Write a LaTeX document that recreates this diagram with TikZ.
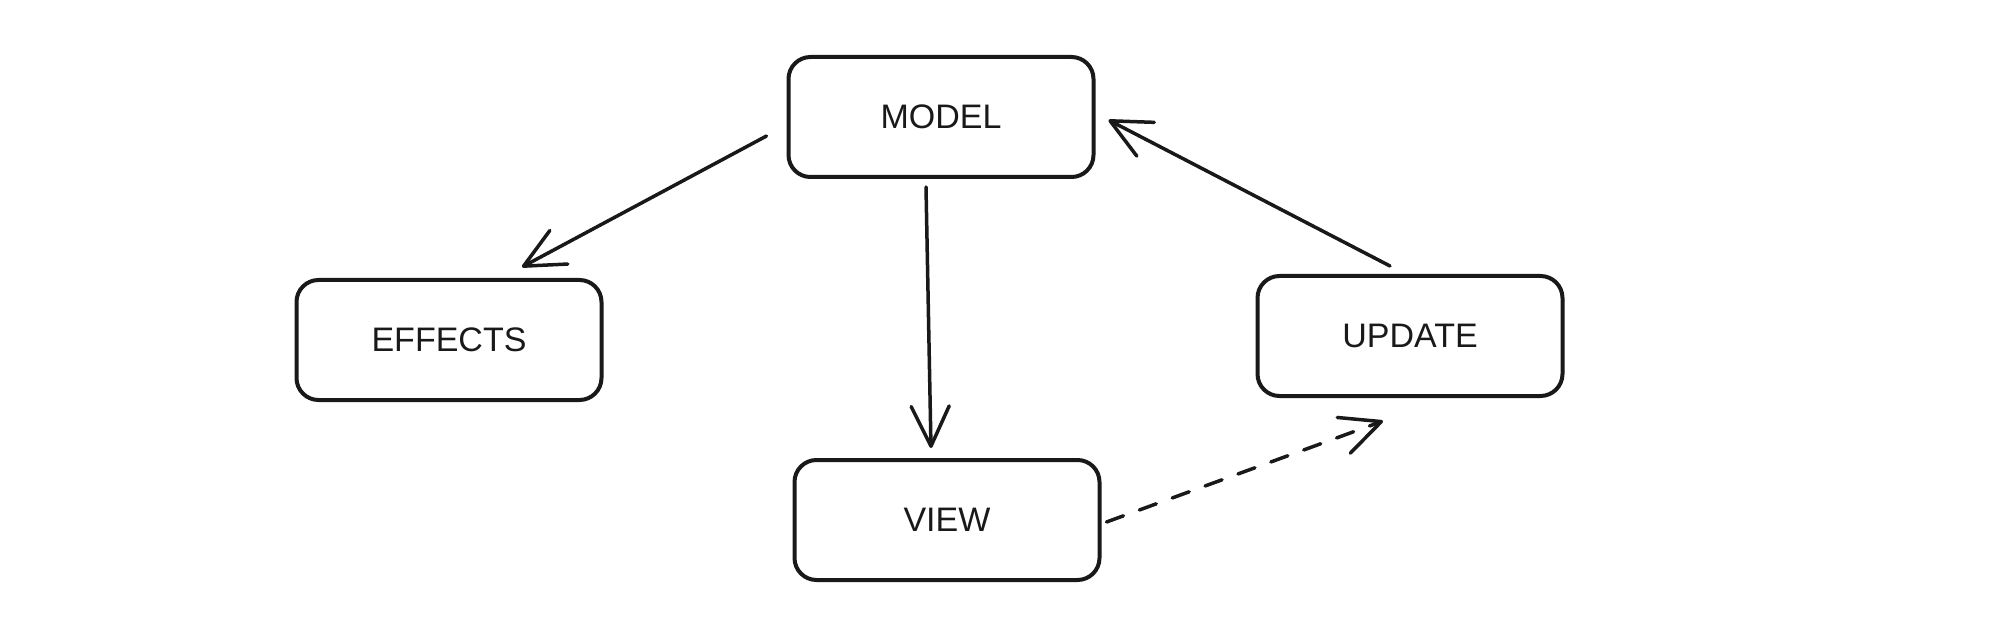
\documentclass[tikz,border=0pt]{standalone}
\usepackage{fontspec}
\setmainfont{Liberation Sans}
\usetikzlibrary{arrows.meta,calc}
\begin{document}
\begin{tikzpicture}[x=1pt,y=-1pt,
  box/.style={draw=black!90, line width=4pt, rounded corners=22pt,
    minimum width=305pt, minimum height=120pt, inner sep=0pt,
    text=black!90, font=\fontsize{34}{40}\selectfont},
  conn/.style={draw=black!90, line width=3.5pt, line cap=round,
    -{Straight Barb[length=40pt,width=38pt,line cap=round,line join=round]}},
  dashconn/.style={conn, dash pattern=on 18pt off 17pt}]
\useasboundingbox (0,0) rectangle (1998,628);
\node[box] (model)   at (941,117) {MODEL};
\node[box] (effects) at (449,340) {EFFECTS};
\node[box] (view)    at (947,520) {VIEW};
\node[box] (update)  at (1410,336) {UPDATE};
\draw[conn] ($(model.west)+(-20,19)$) -- ($(effects.north)+(73,-11)$);
\draw[conn] ($(model.south)+(-15,8)$) -- ($(view.north)+(-16,-10)$);
\draw[conn] ($(update.north)+(-20,-8)$) -- ($(model.east)+(13,3)$);
\draw[dashconn] ($(view.east)+(5,2)$) -- ($(update.south)+(-27,23)$);
\end{tikzpicture}
\end{document}
